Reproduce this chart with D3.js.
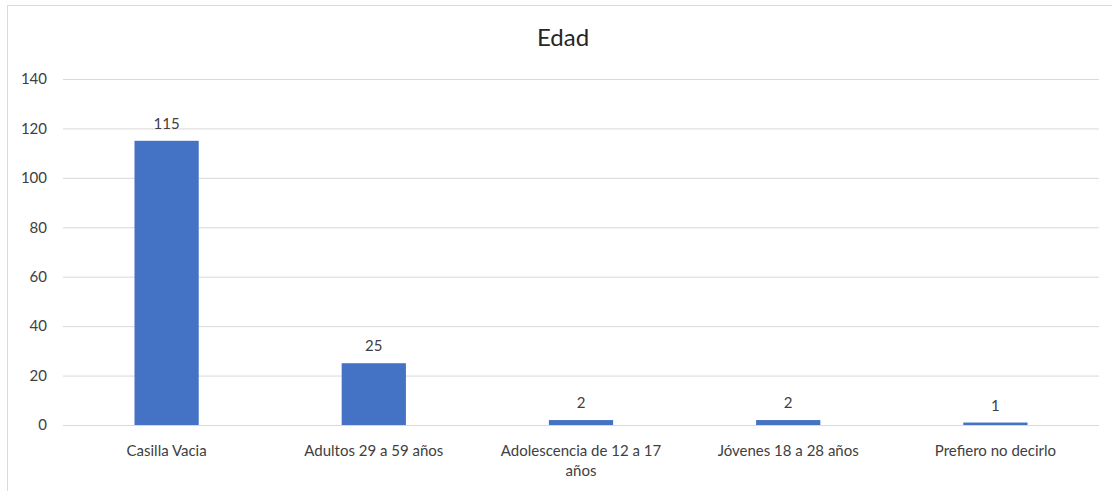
<!DOCTYPE html>
<html>
<head>
<meta charset="utf-8">
<script src="https://cdn.jsdelivr.net/npm/d3@7"></script>
<style>
  html, body { margin: 0; padding: 0; background: #fff; }
  svg { display: block; }
</style>
</head>
<body>
<svg id="chart" width="1112" height="491"></svg>
<script>
const title = "Edad";
const categories = [
  ["Casilla Vacia"],
  ["Adultos 29 a 59 años"],
  ["Adolescencia de 12 a 17", "años"],
  ["Jóvenes 18 a 28 años"],
  ["Prefiero no decirlo"]
];
const values = [115, 25, 2, 2, 1];
const yTicks = [0, 20, 40, 60, 80, 100, 120, 140];

const svg = d3.select("#chart");
const W = 1112, H = 491;
const font = "Lato, 'Open Sans', sans-serif";

// frame
svg.append("rect")
  .attr("x", 7.5).attr("y", 5.5)
  .attr("width", W + 20).attr("height", H + 20)
  .attr("fill", "#fff").attr("stroke", "#d9d9d9").attr("stroke-width", 1);

const plot = { left: 63, right: 1099, top: 79, bottom: 425 };

const x = d3.scaleBand()
  .domain(d3.range(categories.length))
  .range([plot.left, plot.right])
  .paddingInner(0.69).paddingOuter(0.345);

const y = d3.scaleLinear().domain([0, 140]).range([plot.bottom, plot.top]);

// gridlines
const yAxis = d3.axisLeft(y).tickValues(yTicks).tickSize(-(plot.right - plot.left)).tickPadding(16);
const gy = svg.append("g").attr("transform", `translate(${plot.left},0)`).call(yAxis);
gy.select(".domain").remove();
gy.selectAll(".tick line").attr("stroke", "#d9d9d9").attr("stroke-width", 1);
gy.selectAll(".tick text")
  .attr("fill", "#404040").style("font-family", font).style("font-size", "15px");

// bars
svg.append("g").selectAll("rect")
  .data(values)
  .join("rect")
  .attr("x", (d, i) => x(i))
  .attr("width", x.bandwidth())
  .attr("y", d => y(d))
  .attr("height", d => y(0) - y(d))
  .attr("fill", "#4472c4");

// data labels
svg.append("g").selectAll("text")
  .data(values)
  .join("text")
  .attr("x", (d, i) => x(i) + x.bandwidth() / 2)
  .attr("y", d => y(d) - 12)
  .attr("text-anchor", "middle")
  .attr("fill", "#404040")
  .style("font-family", font).style("font-size", "15px")
  .text(d => d);

// category labels
const xAxis = d3.axisBottom(x).tickSize(0).tickPadding(0).tickFormat(() => "");
const gx = svg.append("g").attr("transform", `translate(0,${plot.bottom})`).call(xAxis);
gx.select(".domain").remove();
gx.selectAll(".tick").each(function(i) {
  const t = d3.select(this).append("text")
    .attr("text-anchor", "middle")
    .attr("fill", "#404040")
    .style("font-family", font).style("font-size", "15px");
  categories[i].forEach((line, k) => {
    t.append("tspan").attr("x", 0).attr("y", 31 + k * 20).text(line);
  });
});

// title
svg.append("text")
  .attr("x", 563).attr("y", 46)
  .attr("text-anchor", "middle")
  .attr("fill", "#262626")
  .style("font-family", font).style("font-size", "24px")
  .text(title);
</script>
</body>
</html>
